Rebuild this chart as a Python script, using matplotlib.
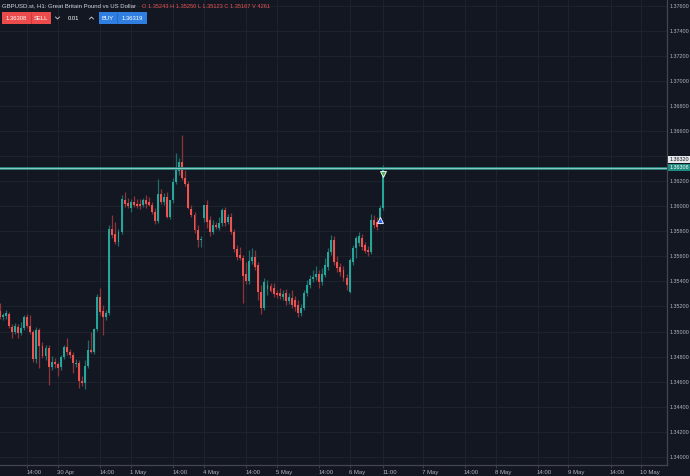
import matplotlib
matplotlib.use("Agg")
import matplotlib.pyplot as plt
from matplotlib.patches import Rectangle
from matplotlib.lines import Line2D
from matplotlib.transforms import ScaledTranslation, blended_transform_factory

plt.rcParams['font.family'] = ['Liberation Sans', 'DejaVu Sans']

# ---------------- data (H1 bars, 29 Apr 05:00 -> 6 May 11:00) ----------------
opens = [1.35163, 1.35115, 1.35123, 1.35139, 1.35035, 1.34995, 1.35035, 1.34987, 1.35027, 1.35115,
         1.35043, 1.34995, 1.34779, 1.35011, 1.34883, 1.34803, 1.34867, 1.34715, 1.34755, 1.34739,
         1.34715, 1.34795, 1.34875, 1.34835, 1.34811, 1.34739, 1.34747, 1.34603, 1.34587, 1.34723,
         1.34851, 1.34835, 1.35019, 1.35275, 1.35163, 1.35115, 1.35147, 1.35819, 1.35779, 1.35715,
         1.35795, 1.36051, 1.36027, 1.35987, 1.36035, 1.36019, 1.36019, 1.36011, 1.36051, 1.36035,
         1.36011, 1.35955, 1.35883, 1.36099, 1.36035, 1.36075, 1.35915, 1.36051, 1.36195, 1.36283,
         1.36355, 1.36227, 1.36179, 1.35979, 1.35931, 1.35811, 1.35731, 1.35907, 1.36011, 1.35891,
         1.35795, 1.35851, 1.35827, 1.35867, 1.35971, 1.35875, 1.35915, 1.35795, 1.35659, 1.35611,
         1.35587, 1.35459, 1.35403, 1.35563, 1.35595, 1.35531, 1.35315, 1.35187, 1.35339, 1.35363,
         1.35347, 1.35307, 1.35307, 1.35275, 1.35307, 1.35243, 1.35267, 1.35251, 1.35211, 1.35147,
         1.35187, 1.35307, 1.35371, 1.35419, 1.35435, 1.35459, 1.35395, 1.35451, 1.35515, 1.35635,
         1.35731, 1.35555, 1.35515, 1.35491, 1.35427, 1.35315, 1.35555, 1.35667, 1.35707, 1.35747,
         1.35691, 1.35651, 1.35635, 1.35891, 1.35875, 1.35875, 1.35987]
highs = [1.35227, 1.35147, 1.35171, 1.35155, 1.35059, 1.35067, 1.35059, 1.35075, 1.35131, 1.35139,
         1.35131, 1.35011, 1.35035, 1.35027, 1.34915, 1.34891, 1.34891, 1.34803, 1.34787, 1.34755,
         1.34811, 1.34891, 1.34947, 1.34859, 1.34835, 1.34779, 1.34771, 1.34643, 1.34771, 1.34931,
         1.34995, 1.35027, 1.35299, 1.35347, 1.35211, 1.35171, 1.35851, 1.35931, 1.35875, 1.35819,
         1.36091, 1.36115, 1.36067, 1.36059, 1.36083, 1.36059, 1.36059, 1.36067, 1.36091, 1.36075,
         1.36035, 1.35987, 1.36219, 1.36139, 1.36107, 1.36115, 1.36051, 1.36227, 1.36427, 1.36387,
         1.36571, 1.36291, 1.36203, 1.36011, 1.35955, 1.35851, 1.35763, 1.35955, 1.36051, 1.35923,
         1.35891, 1.35875, 1.35915, 1.35987, 1.35995, 1.35939, 1.35947, 1.35819, 1.35691, 1.35675,
         1.35611, 1.35555, 1.35651, 1.35667, 1.35651, 1.35555, 1.35371, 1.35427, 1.35411, 1.35387,
         1.35387, 1.35331, 1.35347, 1.35331, 1.35339, 1.35307, 1.35331, 1.35283, 1.35251, 1.35219,
         1.35331, 1.35411, 1.35451, 1.35491, 1.35523, 1.35491, 1.35507, 1.35587, 1.35667, 1.35771,
         1.35763, 1.35603, 1.35547, 1.35523, 1.35459, 1.35587, 1.35691, 1.35763, 1.35795, 1.35779,
         1.35715, 1.35683, 1.35939, 1.35931, 1.35915, 1.36011, 1.36331]
lows = [1.35099, 1.35091, 1.35099, 1.35027, 1.34947, 1.34979, 1.34947, 1.34971, 1.35011, 1.35027,
        1.34979, 1.34755, 1.34747, 1.34707, 1.34787, 1.34771, 1.34571, 1.34691, 1.34707, 1.34643,
        1.34691, 1.34779, 1.34811, 1.34787, 1.34667, 1.34715, 1.34547, 1.34563, 1.34539, 1.34707,
        1.34827, 1.34819, 1.35003, 1.35131, 1.34971, 1.35091, 1.35131, 1.35747, 1.35699, 1.35683,
        1.35779, 1.35995, 1.35987, 1.35955, 1.35995, 1.35987, 1.35979, 1.35995, 1.35987, 1.36003,
        1.35939, 1.35859, 1.35867, 1.36019, 1.36011, 1.35907, 1.35899, 1.36027, 1.36179, 1.36251,
        1.36211, 1.36163, 1.35979, 1.35915, 1.35787, 1.35675, 1.35675, 1.35875, 1.35827, 1.35763,
        1.35779, 1.35819, 1.35811, 1.35843, 1.35843, 1.35859, 1.35779, 1.35635, 1.35571, 1.35571,
        1.35227, 1.35379, 1.35379, 1.35539, 1.35491, 1.35251, 1.35139, 1.35171, 1.35291, 1.35315,
        1.35275, 1.35267, 1.35259, 1.35251, 1.35211, 1.35219, 1.35187, 1.35163, 1.35115, 1.35123,
        1.35171, 1.35283, 1.35347, 1.35395, 1.35411, 1.35347, 1.35371, 1.35435, 1.35491, 1.35611,
        1.35531, 1.35475, 1.35443, 1.35403, 1.35331, 1.35307, 1.35531, 1.35587, 1.35683, 1.35651,
        1.35627, 1.35603, 1.35619, 1.35827, 1.35811, 1.35859, 1.35971]
closes = [1.35115, 1.35131, 1.35147, 1.35043, 1.34995, 1.35043, 1.34987, 1.35027, 1.35115, 1.35043,
          1.34995, 1.34779, 1.35011, 1.34883, 1.34803, 1.34867, 1.34715, 1.34755, 1.34739, 1.34707,
          1.34795, 1.34875, 1.34835, 1.34811, 1.34747, 1.34747, 1.34603, 1.34587, 1.34723, 1.34851,
          1.34835, 1.35019, 1.35275, 1.35155, 1.35115, 1.35147, 1.35819, 1.35771, 1.35715, 1.35795,
          1.36059, 1.36019, 1.36003, 1.36035, 1.36011, 1.36003, 1.36003, 1.36051, 1.36019, 1.36011,
          1.35955, 1.35883, 1.36099, 1.36035, 1.36075, 1.35915, 1.36051, 1.36195, 1.36291, 1.36355,
          1.36227, 1.36179, 1.35987, 1.35931, 1.35811, 1.35731, 1.35739, 1.36011, 1.35875, 1.35795,
          1.35851, 1.35835, 1.35867, 1.35971, 1.35867, 1.35915, 1.35795, 1.35659, 1.35595, 1.35587,
          1.35443, 1.35403, 1.35563, 1.35595, 1.35515, 1.35315, 1.35187, 1.35395, 1.35371, 1.35323,
          1.35299, 1.35291, 1.35283, 1.35299, 1.35243, 1.35275, 1.35211, 1.35195, 1.35147, 1.35187,
          1.35307, 1.35371, 1.35419, 1.35435, 1.35459, 1.35395, 1.35459, 1.35531, 1.35635, 1.35731,
          1.35555, 1.35507, 1.35475, 1.35427, 1.35371, 1.35571, 1.35667, 1.35747, 1.35763, 1.35675,
          1.35643, 1.35635, 1.35891, 1.35851, 1.35835, 1.35987, 1.36308]

x_tick_bars = [9, 19, 33, 43, 57, 67, 81, 91, 105, 115, 126, 139, 153, 163, 177, 187, 201, 211]
x_tick_labels = ["14:00", "30 Apr", "14:00", "1 May", "14:00", "4 May", "14:00", "5 May", "14:00",
                 "6 May", "11:00", "7 May", "14:00", "8 May", "14:00", "9 May", "14:00", "10 May"]
price_ticks = [1.340, 1.342, 1.344, 1.346, 1.348, 1.350, 1.352, 1.354, 1.356, 1.358,
               1.360, 1.362, 1.364, 1.366, 1.368, 1.370, 1.372, 1.374, 1.376]
hidden_price_tick = 1.364   # covered by the price labels in the reference

bid_price = 1.36308
ask_label = "1.36320"
buy_marker = (125, 1.35891)
sell_marker = (126, 1.36259)

title_text = "GBPUSD.st, H1: Great Britain Pound vs US Dollar"
ohlc_text = "O 1.35243 H 1.35250 L 1.35123 C 1.35167 V 4261"
sell_price, lot, buy_price = "1.36308", "0.01", "1.36319"

# ---------------- styling ----------------
BG = '#131722'
UP, DN = '#26a69a', '#ef5350'
UPW, DNW = '#1d6e68', '#8e3438'
GRID = '#1d222d'
TXT = '#b2b5be'
FS_X = 4.3
FS_Y = 3.85

W, H = 690, 476
fig = plt.figure(figsize=(W / 100, H / 100), dpi=100)
fig.patch.set_facecolor(BG)
ax = fig.add_axes([0, 11 / H, 667 / W, 465 / H])
ax.set_facecolor(BG)

n = len(opens)
for i in range(n):
    o, h, l, c = opens[i], highs[i], lows[i], closes[i]
    up = c >= o
    ax.vlines(i, l, h, color=UPW if up else DNW, lw=0.9, zorder=2)
    ax.bar(i, max(abs(c - o), 0.00009), bottom=min(o, c), width=0.64,
           color=UP if up else DN, lw=0, zorder=3)

ax.set_xlim(0.03, 219.4)
ax.set_ylim(1.33934, 1.37648)

ax.set_xticks(x_tick_bars)
ax.set_xticklabels(x_tick_labels)
ax.set_yticks(price_ticks)
ax.set_yticklabels(["" if abs(p - hidden_price_tick) < 1e-9 else f"{p:.5f}" for p in price_ticks])
ax.yaxis.tick_right()
ax.tick_params(axis='y', length=0, pad=2.0, labelsize=FS_Y, colors=TXT)
ax.tick_params(axis='x', length=2, width=0.6, pad=1.5, labelsize=FS_X, colors=TXT, color='#434651')
for lab in ax.get_xticklabels():
    dx = 6.5 if ":" in lab.get_text() else 8.0
    lab.set_transform(lab.get_transform() + ScaledTranslation(dx / 100, 0, fig.dpi_scale_trans))
ax.grid(True, color=GRID, lw=0.8)
ax.set_axisbelow(True)
for s in ['left', 'top']:
    ax.spines[s].set_visible(False)
for s in ['right', 'bottom']:
    ax.spines[s].set_color('#434651')
    ax.spines[s].set_linewidth(0.9)

# current price line
ax.axhline(bid_price, color='#2a8c84', lw=2.0, zorder=4)
ax.axhline(bid_price, color='#9fd3cc', lw=0.6, zorder=5)

# trade markers
ax.plot(*buy_marker, marker='^', ms=4.2, mfc='#2962ff', mec='white', mew=0.6, zorder=6)
ax.plot(*sell_marker, marker='v', ms=4.2, mfc='#4caf50', mec='white', mew=0.6, zorder=6)

# right-side price labels
bt = blended_transform_factory(fig.transFigure, ax.transData)
px = 0.00007987
ask_y = bid_price + 8.5 * px
for yv, txt, fc, tc in [(ask_y, ask_label, '#e6e7ea', '#131722'),
                        (bid_price, f"{bid_price:.5f}", '#1f8a80', 'white')]:
    ax.add_patch(Rectangle((668 / W, yv - 3.7 * px), 22 / W, 7.4 * px, transform=bt,
                           facecolor=fc, edgecolor='none', clip_on=False, zorder=10))
    ax.text(669.5 / W, yv, txt, transform=bt, color=tc, fontsize=FS_Y, va='center', ha='left',
            clip_on=False, zorder=11)

# header texts
def fx(x):
    return x / W

def fy(y):
    return 1 - y / H

fig.text(fx(2), fy(6), title_text, color='#d1d4dc', fontsize=4.3, va='center', ha='left')
fig.text(fx(142), fy(6), ohlc_text, color='#ef5350', fontsize=4.1, va='center', ha='left')

# sell box
fig.add_artist(Rectangle((fx(2), fy(23.5)), 49 / W, 11 / H, transform=fig.transFigure,
                         facecolor='#ec4b4b', edgecolor='none'))
fig.add_artist(Line2D([fx(31), fx(31)], [fy(13), fy(23)], transform=fig.transFigure, color='#c23a3a', lw=0.6))
fig.text(fx(16.5), fy(18), sell_price, color='white', fontsize=4.2, va='center', ha='center')
fig.text(fx(41), fy(18), "SELL", color='white', fontsize=4.2, va='center', ha='center')
# lot selector
fig.add_artist(Line2D([fx(55.5), fx(57.5), fx(59.5)], [fy(17), fy(19), fy(17)], transform=fig.transFigure,
                      color='#d1d4dc', lw=0.6))
fig.text(fx(74), fy(18), lot, color='white', fontsize=4.2, va='center', ha='center')
fig.add_artist(Line2D([fx(89.5), fx(91.5), fx(93.5)], [fy(19), fy(17), fy(19)], transform=fig.transFigure,
                      color='#d1d4dc', lw=0.6))
# buy box
fig.add_artist(Rectangle((fx(99), fy(23.5)), 48 / W, 11 / H, transform=fig.transFigure,
                         facecolor='#2f7fe3', edgecolor='none'))
fig.add_artist(Line2D([fx(117), fx(117)], [fy(13), fy(23)], transform=fig.transFigure, color='#2565bd', lw=0.6))
fig.text(fx(108), fy(18), "BUY", color='white', fontsize=4.2, va='center', ha='center')
fig.text(fx(132), fy(18), buy_price, color='white', fontsize=4.2, va='center', ha='center')

fig.savefig("out.png", dpi=100, facecolor=BG)
